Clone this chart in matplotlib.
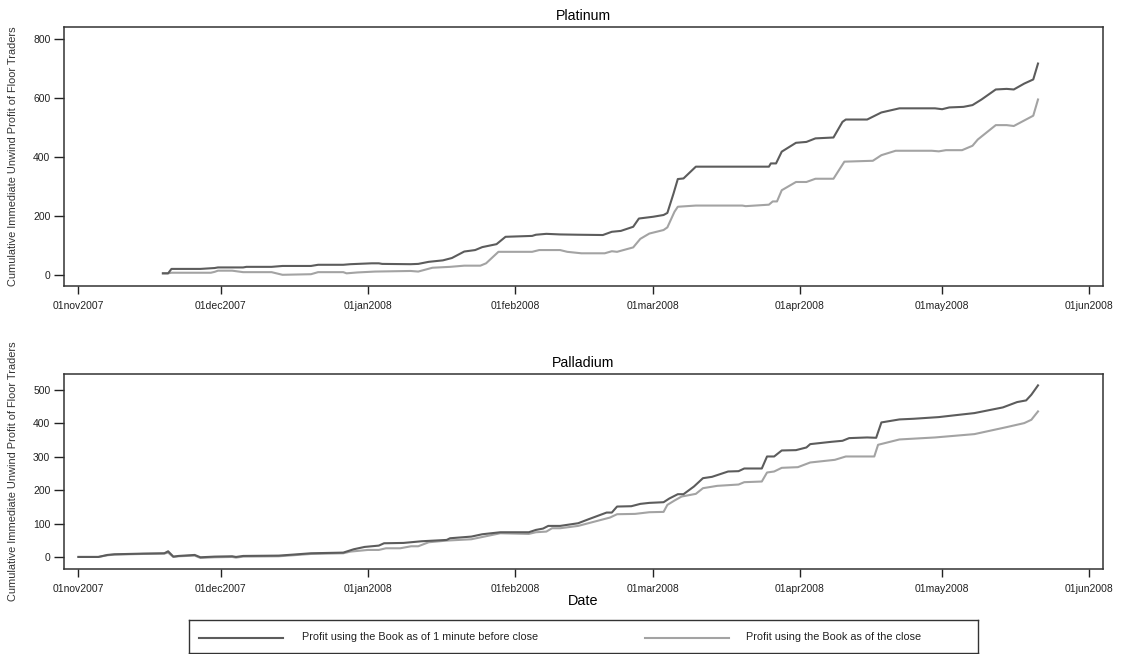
import numpy as np
import pandas as pd
import matplotlib
matplotlib.use("Agg")
import matplotlib.pyplot as plt

plt.rcParams['font.family'] = ['Liberation Sans', 'DejaVu Sans']

BASE = pd.Timestamp('2007-11-01')

# ---- Platinum (days since 01nov2007, cumulative profit) ----
plat_dark_days = [17.8, 18.9, 19.6, 25.7, 28.7, 29.4, 34.7, 35.4, 40.7, 43.0, 49.0, 50.5, 55.8, 57.3,
                  61.8, 63.3, 64.0, 70.0, 71.6, 73.8, 76.8, 78.7, 81.3, 83.6, 85.1, 88.1, 90.0, 95.6,
                  96.4, 98.6, 101.5, 105.3, 110.5, 112.4, 114.3, 116.9, 118.1, 121.1, 123.3, 124.1,
                  125.4, 126.3, 127.5, 130.1, 145.5, 145.9, 147.0, 148.2, 151.2, 153.4, 155.3, 159.1,
                  161.0, 161.7, 166.2, 169.2, 173.0, 180.5, 182.0, 183.5, 186.5, 188.4, 190.3, 193.3,
                  195.6, 197.1, 199.3, 201.2, 202.2]
plat_dark_vals = [6, 6, 21, 21, 24, 26, 26, 28, 28, 31, 31, 35, 35, 37,
                  40, 40, 38, 37, 38, 45, 50, 58, 80, 85, 95, 105, 130, 133,
                  137, 140, 138, 137, 136, 147, 150, 164, 192, 198, 204, 211,
                  277, 326, 328, 368, 368, 379, 379, 419, 449, 452, 464, 467,
                  520, 528, 528, 552, 566, 566, 563, 569, 571, 577, 596, 630,
                  632, 630, 650, 664, 718]

plat_light_days = [17.8, 18.9, 19.6, 27.9, 28.7, 29.4, 32.4, 34.7, 40.7, 43.0, 49.0, 50.5, 55.8, 56.5,
                   58.8, 62.5, 70.0, 71.6, 74.6, 78.3, 81.3, 84.7, 85.9, 88.5, 95.6, 97.1, 101.5,
                   103.0, 106.0, 110.9, 112.4, 113.5, 116.9, 118.4, 120.3, 123.3, 124.1, 125.6, 126.3,
                   130.1, 139.9, 140.6, 145.5, 146.3, 147.2, 148.2, 151.2, 153.4, 155.3, 159.1, 161.4,
                   167.4, 169.2, 172.2, 179.8, 181.3, 182.8, 186.2, 188.4, 189.5, 193.3, 195.6, 197.1,
                   201.2, 202.2]
plat_light_vals = [6, 6, 8, 8, 11, 15, 15, 10, 10, 1, 3, 10, 10, 6,
                   9, 12, 14, 12, 25, 28, 32, 32, 40, 79, 79, 85, 85,
                   79, 74, 74, 81, 79, 94, 123, 141, 153, 162, 215, 232,
                   236, 236, 234, 239, 250, 250, 288, 316, 316, 327, 327, 385,
                   388, 407, 422, 422, 420, 424, 424, 439, 460, 509, 509, 506,
                   541, 596]

# ---- Palladium ----
pall_dark_days = [0.0, 4.2, 6.1, 7.6, 13.6, 18.1, 18.9, 20.0, 21.1, 24.5, 25.7, 28.7, 32.4, 33.2, 34.7,
                  42.2, 45.2, 49.0, 55.8, 58.0, 60.3, 63.3, 64.4, 68.5, 72.3, 77.6, 78.3, 82.8, 85.1,
                  88.9, 94.9, 96.4, 97.9, 99.0, 101.5, 105.3, 107.5, 111.3, 112.4, 113.5, 116.5, 118.4,
                  120.3, 123.3, 124.5, 126.3, 127.5, 129.7, 131.6, 133.5, 136.9, 139.1, 140.3, 144.0,
                  145.1, 146.6, 148.2, 151.2, 153.4, 154.2, 158.7, 161.0, 162.4, 166.2, 168.1, 169.2,
                  173.0, 176.0, 181.3, 185.0, 188.8, 194.8, 197.8, 199.7, 200.8, 202.2]
pall_dark_vals = [0, 0, 6, 8, 10, 11, 17, 1, 3, 6, -1, 1, 2, 0, 3,
                  4, 7, 11, 13, 23, 30, 34, 41, 42, 47, 51, 56, 61, 68,
                  74, 74, 81, 85, 93, 93, 101, 113, 133, 133, 151, 152, 159,
                  162, 164, 175, 188, 188, 211, 236, 240, 256, 257, 265, 265,
                  301, 301, 319, 320, 328, 338, 345, 348, 356, 358, 357, 403,
                  412, 414, 419, 425, 431, 448, 464, 469, 486, 514]

pall_light_days = [0.0, 4.2, 6.1, 7.6, 13.6, 18.1, 18.9, 20.0, 21.1, 24.5, 25.7, 28.7, 32.4, 33.2, 34.7,
                   42.2, 45.2, 49.0, 55.8, 57.3, 61.0, 63.3, 64.8, 67.8, 70.1, 71.6, 73.8, 77.6, 82.8,
                   88.9, 94.9, 96.4, 98.6, 99.8, 101.5, 105.3, 112.0, 113.5, 117.3, 120.3, 123.3, 124.1,
                   125.6, 127.1, 130.1, 131.6, 134.6, 139.1, 140.3, 144.0, 145.1, 146.6, 148.2, 151.6,
                   154.2, 159.4, 161.7, 167.7, 168.5, 173.0, 180.5, 188.8, 195.6, 199.3, 200.8, 202.2]
pall_light_vals = [0, 0, 5, 7, 9, 10, 13, 0, 2, 4, -3, -1, 0, -2, 1,
                   2, 5, 9, 11, 16, 21, 21, 26, 26, 32, 32, 44, 49, 53,
                   71, 69, 74, 76, 86, 86, 93, 118, 128, 129, 134, 135, 156,
                   169, 181, 189, 206, 213, 217, 224, 226, 253, 256, 267, 269,
                   283, 291, 301, 301, 336, 352, 358, 368, 389, 401, 411, 436]

panel_titles = ['Platinum', 'Palladium']
legend_labels = ['Profit using the Book as of 1 minute before close',
                 'Profit using the Book as of the close']
ylabel_text = 'Cumulative Immediate Unwind Profit of Floor Traders'
xlabel_text = 'Date'
tick_dates = ['2007-11-01', '2007-12-01', '2008-01-01', '2008-02-01',
              '2008-03-01', '2008-04-01', '2008-05-01', '2008-06-01']

DARK = '#5c5c5c'
LIGHT = '#a3a3a3'
TXT = '#222222'

def to_dates(days):
    return BASE + pd.to_timedelta(np.asarray(days, dtype=float), unit='D')

W, H = 1122, 654
fig = plt.figure(figsize=(W / 100, H / 100), dpi=100)

left = 63.6 / W
width = (1102.9 - 63.6) / W
ax1 = fig.add_axes([left, 1 - 286 / H, width, (286 - 27.3) / H])
ax2 = fig.add_axes([left, 1 - 569.3 / H, width, (569.3 - 373.7) / H])

series = [
    (ax1, plat_dark_days, plat_dark_vals, plat_light_days, plat_light_vals, (-37, 841), [0, 200, 400, 600, 800]),
    (ax2, pall_dark_days, pall_dark_vals, pall_light_days, pall_light_vals, (-37, 549), [0, 100, 200, 300, 400, 500]),
]

xticks = pd.to_datetime(tick_dates)
for i, (ax, dd, dv, ld, lv, ylim, yt) in enumerate(series):
    ax.plot(to_dates(ld), lv, color=LIGHT, lw=1.5, solid_joinstyle='round')
    ax.plot(to_dates(dd), dv, color=DARK, lw=1.5, solid_joinstyle='round')
    ax.set_xlim(pd.Timestamp('2007-10-28 21:00'), pd.Timestamp('2008-06-03 21:00'))
    ax.set_ylim(*ylim)
    ax.set_yticks(yt)
    ax.set_xticks(xticks)
    ax.set_xticklabels([d.strftime('%d%b%Y').lower() for d in xticks])
    ax.tick_params(axis='x', length=6, width=1, pad=4.5, labelsize=7.5, colors=TXT)
    ax.tick_params(axis='y', length=7.5, width=1, pad=2, labelsize=7.5, colors=TXT)
    for s in ax.spines.values():
        s.set_linewidth(1.1)
        s.set_color('#333333')
    ax.set_title(panel_titles[i], fontsize=10.2, pad=5, color='black')
    ax.set_ylabel(ylabel_text, fontsize=7.9, color='#333333')
    ax.yaxis.set_label_coords((18 - 63.6) / (1102.9 - 63.6), 0.5)

ax2.set_xlabel(xlabel_text, fontsize=10.4, color='black')
ax2.xaxis.set_label_coords(0.5, (569.3 - 594) / (569.3 - 373.7))

# legend box
lax = fig.add_axes([189.3 / W, 1 - 652.5 / H, (977.9 - 189.3) / W, (652.5 - 620) / H])
lax.set_xlim(189.3, 977.9)
lax.set_ylim(652.5, 620)
lax.set_xticks([])
lax.set_yticks([])
for s in lax.spines.values():
    s.set_linewidth(1.0)
    s.set_color('#333333')
ly = 637.5
lax.plot([199, 283], [ly, ly], color=DARK, lw=1.5)
lax.text(302, ly, legend_labels[0], fontsize=7.8, va='center', ha='left', color=TXT)
lax.plot([644.6, 728.6], [ly, ly], color=LIGHT, lw=1.5)
lax.text(746.4, ly, legend_labels[1], fontsize=7.8, va='center', ha='left', color=TXT)

fig.savefig('out.png', dpi=100, facecolor='white')
